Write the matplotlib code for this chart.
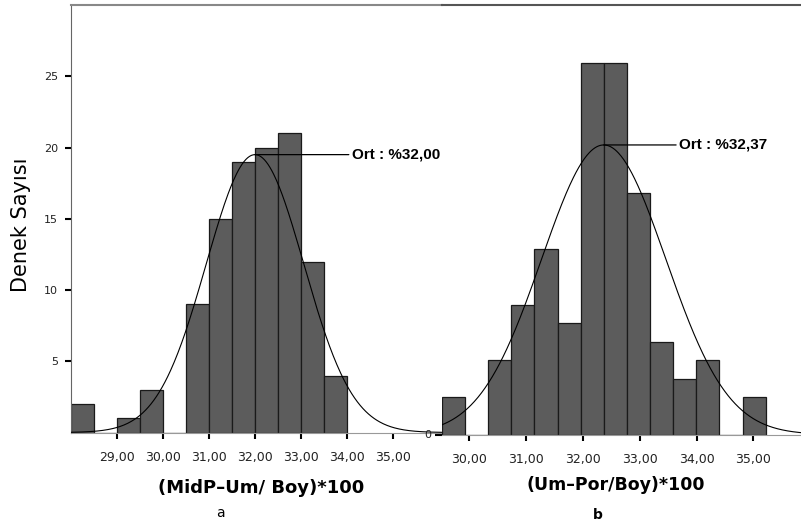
import numpy as np
import matplotlib
matplotlib.use("Agg")
import matplotlib.pyplot as plt

# ---- data ----
left_bin_start = 28.0
left_bin_width = 0.5
left_counts = [2, 0, 1, 3, 0, 9, 15, 19, 20, 21, 12, 4]
left_mean = 32.00
left_sd = 1.06
left_peak = 19.5

right_bin_start = 29.53
right_bin_width = 0.406
right_counts = [2, 0, 4, 7, 10, 6, 20, 20, 13, 5, 3, 4, 0, 2]
right_mean = 32.37
right_sd = 1.09
right_peak = 15.6

left_xticks = [29, 30, 31, 32, 33, 34, 35]
right_xticks = [30, 31, 32, 33, 34, 35]
left_yticks = [5, 10, 15, 20, 25]
right_yticks = [0]

ylabel = "Denek Sayısı"
left_xlabel = "(MidP–Um/ Boy)*100"
right_xlabel = "(Um–Por/Boy)*100"
left_tag = "a"
right_tag = "b"
left_note = "Ort : %32,00"
right_note = "Ort : %32,37"

W, H = 801, 526
fig = plt.figure(figsize=(W / 100, H / 100), dpi=100)

def fx(px):
    return px / W

def fy(py):
    return 1 - py / H

bar_face = "#5c5c5c"
bar_edge = "#1a1a1a"

def fmt(v):
    return f"{v:.2f}".replace(".", ",")

def panel(ax, start, bw, counts, mean, sd, peak, xticks, yticks, xlim, ylim):
    edges = start + bw * np.arange(len(counts))
    ax.bar(edges, counts, width=bw, align="edge", color=bar_face,
           edgecolor=bar_edge, linewidth=0.9, zorder=2)
    xs = np.linspace(xlim[0], xlim[1], 400)
    ax.plot(xs, peak * np.exp(-0.5 * ((xs - mean) / sd) ** 2), color="black",
            linewidth=0.8, zorder=3)
    ax.set_xlim(*xlim)
    ax.set_ylim(*ylim)
    ax.set_xticks(xticks)
    ax.set_xticklabels([fmt(t) for t in xticks], fontsize=9, color="#222222")
    ax.set_yticks(yticks)
    ax.set_yticklabels([str(t) for t in yticks], fontsize=8, color="#222222")
    ax.tick_params(axis="both", direction="out", length=4.3, width=1.5,
                   color="black", pad=5)
    ax.tick_params(axis="x", pad=9)
    ax.patch.set_alpha(0)

# left panel
axL = fig.add_axes([fx(71), fy(432.5), fx(442 - 71), fy(5) - fy(432.5)])
panel(axL, left_bin_start, left_bin_width, left_counts, left_mean, left_sd,
      left_peak, left_xticks, left_yticks, (28.0, 28.0 + (442 - 71) / 46.0), (0, 30))
for s in ["right"]:
    axL.spines[s].set_visible(False)
axL.spines["left"].set_color("#666666")
axL.spines["bottom"].set_color("#999999")
axL.spines["top"].set_color("#888888")
axL.spines["top"].set_linewidth(1.5)
axL.annotate(left_note, xy=(left_mean, left_peak), xytext=(34.1, left_peak),
             fontsize=11, fontweight="bold", family="Liberation Sans",
             va="center", ha="left",
             arrowprops=dict(arrowstyle="-", color="black", lw=0.9,
                             shrinkA=0, shrinkB=0))

# right panel
axR = fig.add_axes([fx(442), fy(434.5), fx(801 - 442), fy(5) - fy(434.5)])
panel(axR, right_bin_start, right_bin_width, right_counts, right_mean, right_sd,
      right_peak, right_xticks, right_yticks,
      (right_bin_start, 30 + (801 - 469) / 56.9), (0, 23.14))
axR.spines["left"].set_visible(False)
axR.spines["right"].set_visible(False)
axR.spines["bottom"].set_color("#999999")
axR.spines["top"].set_color("#555555")
axR.spines["top"].set_linewidth(1.5)
axR.tick_params(axis="y", length=5, pad=3)
axR.annotate(right_note, xy=(right_mean, right_peak), xytext=(33.69, right_peak),
             fontsize=11, fontweight="bold", family="Liberation Sans",
             va="center", ha="left",
             arrowprops=dict(arrowstyle="-", color="black", lw=0.9,
                             shrinkA=0, shrinkB=0))

# labels
fig.text(fx(21), fy(225), ylabel, rotation=90, fontsize=15, ha="center",
         va="center", color="black")
fig.text(fx(261.5), fy(488), left_xlabel, fontsize=13, fontweight="bold",
         ha="center", va="center")
fig.text(fx(220), fy(513), left_tag, fontsize=10, ha="center", va="center")
fig.text(fx(615.5), fy(485), right_xlabel, fontsize=12.5, fontweight="bold",
         ha="center", va="center")
fig.text(fx(598), fy(515), right_tag, fontsize=10, fontweight="bold",
         ha="center", va="center")

fig.savefig("out.png", dpi=100)
